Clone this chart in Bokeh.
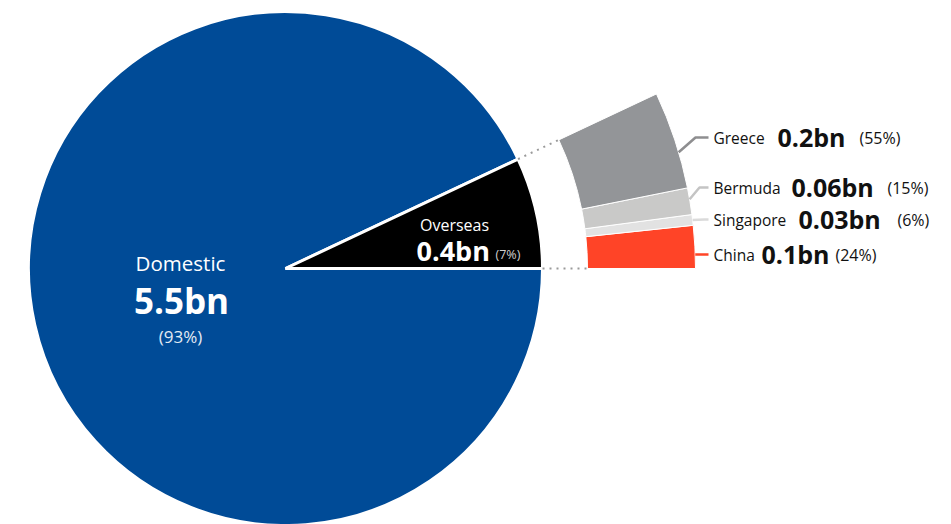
import math
from bokeh.plotting import figure
from bokeh.models import Range1d
from bokeh.core.properties import value
from bokeh.embed import file_html
from bokeh.resources import INLINE

# ---------------- data ----------------
main_labels = ["Domestic", "Overseas"]
main_values = ["5.5bn", "0.4bn"]
main_shares = [93, 7]

sub_labels = ["China", "Singapore", "Bermuda", "Greece"]      # from bottom (angle 0) upward
sub_values = ["0.1bn", "0.03bn", "0.06bn", "0.2bn"]
sub_shares = [24, 6, 15, 55]

# ---------------- styles / layout ----------------
W, H = 951, 524
main_colors = ["#004B97", "#000000"]
sub_colors = ["#FF4427", "#E2E2E2", "#C9C9C8", "#939598"]
leader_colors = ["#FF4427", "#DADADA", "#C4C4C4", "#8E8E90"]

cx, cy = 285, H - 268
R = 257
r_in, r_out = 302, 410

# label layout (pixel rows from top), x of name / value / percentage
sub_label_y = [254, 219, 187, 137]
sub_name_x = [713, 713, 713, 713]
sub_val_x = [761, 798, 791, 777]
sub_pct_x = [835, 897, 887, 859]
leader_end_x = 708
leader_elbow_x = [700, 704, 699, 695]
leader_start_frac = [None, 0.5, 0.57, 0.37]   # None -> horizontal start at label row

FONT = value("Open Sans")

p = figure(width=W, height=H, x_range=Range1d(0, W), y_range=Range1d(0, H),
           output_backend="svg", toolbar_location=None, min_border=0,
           x_axis_location=None, y_axis_location=None)
p.grid.visible = False
p.outline_line_color = None
p.background_fill_color = "white"
p.border_fill_color = "white"

# ---------------- main pie ----------------
total = sum(main_shares)
span = 2 * math.pi * main_shares[1] / total
p.wedge(x=[cx], y=[cy], radius=R, start_angle=[span], end_angle=[2 * math.pi],
        fill_color=main_colors[0], line_color="white", line_width=3)
p.wedge(x=[cx], y=[cy], radius=R, start_angle=[0], end_angle=[span],
        fill_color=main_colors[1], line_color="white", line_width=3)

# ---------------- breakdown annulus ----------------
sub_total = sum(sub_shares)
starts, ends = [], []
acc = 0
for s in sub_shares:
    a0 = span * acc / sub_total
    acc += s
    a1 = span * acc / sub_total
    starts.append(a0); ends.append(a1)

p.annular_wedge(x=[cx] * 4, y=[cy] * 4, inner_radius=r_in, outer_radius=r_out,
                start_angle=starts, end_angle=ends, fill_color=sub_colors,
                line_color="white", line_width=1)

# dotted connectors
p.line([cx + R * math.cos(span), cx + r_in * math.cos(span)],
       [cy + R * math.sin(span), cy + r_in * math.sin(span)],
       line_color="#9A9A9A", line_width=2, line_dash="2 5")
p.line([cx + R, cx + r_in], [cy, cy], line_color="#9A9A9A", line_width=2, line_dash="2 5")

# leaders + labels
for i in range(4):
    ly = H - sub_label_y[i]
    f = leader_start_frac[i]
    if f is None:
        sx = cx + math.sqrt(r_out ** 2 - (ly - cy) ** 2)
        sy = ly
    else:
        a = starts[i] + f * (ends[i] - starts[i])
        sx = cx + r_out * math.cos(a)
        sy = cy + r_out * math.sin(a)
    p.line([sx, leader_elbow_x[i], leader_end_x], [sy, ly, ly],
           line_color=leader_colors[i], line_width=2.5)
    p.text(x=[sub_name_x[i]], y=[ly], text=[sub_labels[i]], text_font=FONT,
           text_font_size="15.5px", text_color="#111111", text_align="left",
           text_baseline="middle")
    p.text(x=[sub_val_x[i]], y=[ly + 1], text=[sub_values[i]], text_font=FONT,
           text_font_size="25px", text_font_style="bold", text_color="#111111",
           text_align="left", text_baseline="middle")
    p.text(x=[sub_pct_x[i]], y=[ly], text=["(%d%%)" % sub_shares[i]], text_font=FONT,
           text_font_size="16px", text_color="#111111", text_align="left",
           text_baseline="middle")

# domestic label
p.text(x=[cx - 105], y=[H - 262], text=[main_labels[0]], text_font=FONT,
       text_font_size="20.5px", text_color="white", text_align="center", text_baseline="middle")
p.text(x=[cx - 104], y=[H - 300], text=[main_values[0]], text_font=FONT,
       text_font_size="35px", text_font_style="bold", text_color="white",
       text_align="center", text_baseline="middle")
p.text(x=[cx - 105], y=[H - 336], text=["(%d%%)" % main_shares[0]], text_font=FONT,
       text_font_size="17px", text_color="#E3EAF4", text_align="center", text_baseline="middle")

# overseas label
p.text(x=[cx + 169], y=[H - 224], text=[main_labels[1]], text_font=FONT,
       text_font_size="16px", text_color="white", text_align="center", text_baseline="middle")
p.text(x=[cx + 131], y=[H - 250], text=[main_values[1]], text_font=FONT,
       text_font_size="27px", text_font_style="bold", text_color="white",
       text_align="left", text_baseline="middle")
p.text(x=[cx + 210], y=[H - 254], text=["(%d%%)" % main_shares[1]], text_font=FONT,
       text_font_size="12.5px", text_color="#D0D0D0", text_align="left", text_baseline="middle")

open("out.html", "w").write(file_html(p, INLINE))
